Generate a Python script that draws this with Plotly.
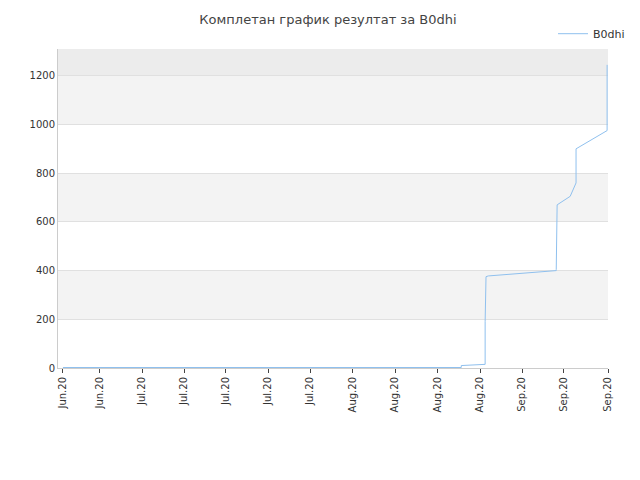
import plotly.graph_objects as go

# day offsets from start (Jun) and cumulative score, in time order
days = [1.1, 89.6, 89.6, 92.2, 92.2, 94.9, 94.9, 95.1, 95.6, 110.7, 110.7, 110.9,
        113.8, 115.1, 115.1, 122.0, 122.0]
scores = [2, 2, 10, 12, 15, 15, 190, 375, 378, 400, 405, 670,
          705, 760, 900, 975, 1245]
tick_days = [1.1, 9.3, 18.7, 28, 37.3, 46.7, 56, 65.5, 74.9, 84.4, 93.8, 103.1, 112.4, 122.2]
tick_labels = ["Jun.20", "Jun.20", "Jul.20", "Jul.20", "Jul.20", "Jul.20", "Jul.20",
               "Aug.20", "Aug.20", "Aug.20", "Aug.20", "Sep.20", "Sep.20", "Sep.20"]
band_edges = [(200, 400, "#f3f3f3"), (600, 800, "#f3f3f3"), (1000, 1200, "#f3f3f3"),
              (1200, 1310, "#ececec")]

fig = go.Figure(go.Scatter(
    x=days, y=scores, mode="lines", name="B0dhi", showlegend=True,
    line=dict(color="#8fc0ee", width=1),
))
for y0, y1, c in band_edges:
    fig.add_hrect(y0=y0, y1=y1, fillcolor=c, line_width=0, layer="below")

fig.update_layout(
    width=640, height=480,
    title=dict(text="Комплетан график резултат за B0dhi", x=0.5, y=0.985,
               font=dict(size=13, color="#444")),
    font=dict(family="DejaVu Sans", size=11, color="#333"),
    plot_bgcolor="white", paper_bgcolor="white",
    margin=dict(l=50, r=40, t=40, b=120),
    legend=dict(x=1.04, y=1.09, xanchor="right", yanchor="top", font=dict(size=11)),
    xaxis=dict(range=[0, 122.2], tickvals=tick_days, ticktext=tick_labels,
               tickangle=-90, showgrid=False, ticks="outside", ticklen=4,
               linecolor="#ccc", tickfont=dict(size=10), automargin=False),
    yaxis=dict(range=[0, 1310], dtick=200, gridcolor="#e0e0e0", zeroline=False,
               linecolor="#ccc", showline=True, tickfont=dict(size=10),
               automargin=False),
)
fig.write_html("out.html")
